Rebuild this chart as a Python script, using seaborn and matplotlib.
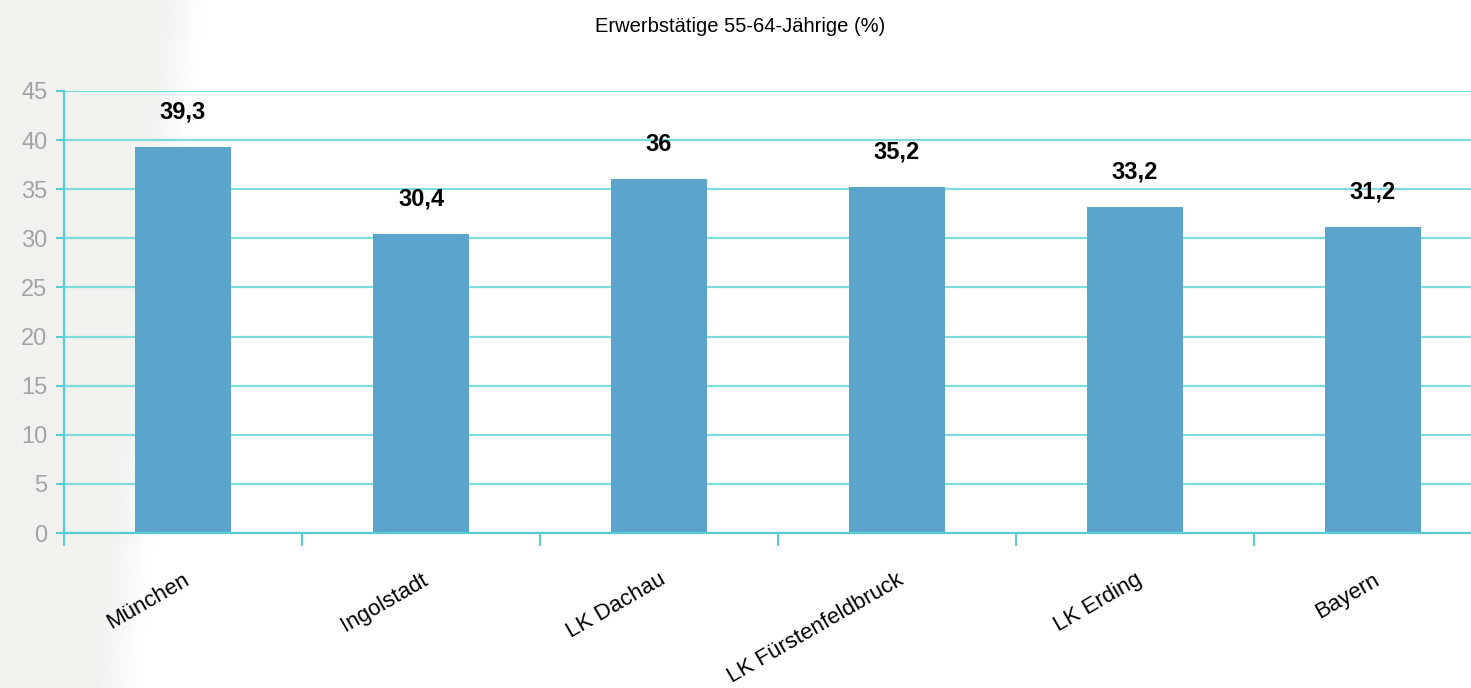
import numpy as np
import matplotlib
matplotlib.use("Agg")
import matplotlib.pyplot as plt
from matplotlib.ticker import MultipleLocator
import seaborn as sns

# --- chart data ---
title = "Erwerbstätige 55-64-Jährige (%)"
regions = ["München", "Ingolstadt", "LK Dachau", "LK Fürstenfeldbruck", "LK Erding", "Bayern"]
share = [39.3, 30.4, 36.0, 35.2, 33.2, 31.2]
value_labels = ["39,3", "30,4", "36", "35,2", "33,2", "31,2"]

bar_color = "#5BA4CC"
grid_color = "#7EDCDD"
axis_color = "#55CDD2"
tick_gray = "#A3A3A3"

sns.set_theme(style="white")
plt.rcParams["font.family"] = ["Liberation Sans", "DejaVu Sans"]

W, H, DPI = 1471, 688, 100
fig = plt.figure(figsize=(W / DPI, H / DPI), dpi=DPI, facecolor="white")

# soft grey backdrop on the left side of the slide
bg = fig.add_axes([0, 0, 1, 1], zorder=-5)
yy, xx = np.mgrid[0:H, 0:W]
edge = 205 - 65 * (yy / H)
alpha = np.clip((edge - xx) / 45.0, 0, 1)
rgba = np.zeros((H, W, 4))
rgba[..., 0] = 0xF1 / 255
rgba[..., 1] = 0xF2 / 255
rgba[..., 2] = 0xEE / 255
rgba[..., 3] = alpha
bg.imshow(rgba, aspect="auto", extent=[0, W, H, 0])
bg.set_axis_off()

ax = fig.add_axes([64 / W, 155 / H, 1428 / W, 442 / H])
ax.set_facecolor("none")

sns.barplot(x=regions, y=share, color=bar_color, saturation=1, width=0.4, ax=ax,
            linewidth=0, edgecolor=bar_color, zorder=3)

ax.set_ylim(0, 45)
ax.set_xlim(-0.5, 5.5)
ax.yaxis.set_major_locator(MultipleLocator(5))
ax.yaxis.grid(True, color=grid_color, linewidth=1.6, zorder=0)
ax.set_axisbelow(True)

for side in ["top", "right"]:
    ax.spines[side].set_visible(False)
for side in ["left", "bottom"]:
    ax.spines[side].set_color(axis_color)
    ax.spines[side].set_linewidth(1.6)
    ax.spines[side].set_zorder(4)

ax.tick_params(axis="y", which="major", direction="out", length=6, width=1.4,
               color=axis_color, labelcolor=tick_gray, labelsize=17, pad=6, left=True)
ax.set_xticks(range(len(regions)))
ax.set_xticklabels(regions, rotation=30, ha="right", va="top", rotation_mode="anchor",
                   fontsize=16, color="black")
ax.tick_params(axis="x", which="major", length=0, pad=26)
ax.set_xticks(np.arange(-0.5, len(regions), 1.0), minor=True)
ax.tick_params(axis="x", which="minor", direction="out", length=9, width=1.4,
               color=axis_color, bottom=True)

for i, (v, lab) in enumerate(zip(share, value_labels)):
    ax.annotate(lab, xy=(i, v), xytext=(0, 35), textcoords="offset pixels",
                ha="center", va="center", fontsize=17, fontweight="bold", color="black")

ax.set_xlabel("")
ax.set_ylabel("")
fig.text(740 / W, 1 - 27 / H, title, ha="center", va="center", fontsize=14.5, color="black")

fig.savefig("out.png", dpi=DPI, facecolor="white")
